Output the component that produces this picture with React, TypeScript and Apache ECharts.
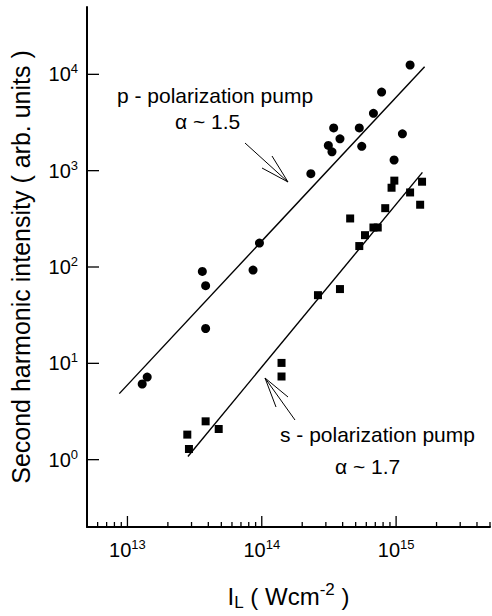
import React, { useEffect, useRef } from "react";
import * as echarts from "echarts";

// ---- data ----
const pIntensity = [1.288e13, 1.403e13, 3.61e13, 3.82e13, 3.82e13, 8.61e13, 9.61e13, 2.32e14, 3.13e14, 3.33e14, 3.43e14, 3.82e14, 5.32e14, 5.55e14, 6.78e14, 7.8e14, 9.66e14, 1.114e15, 1.271e15];
const pSignal = [6.1, 7.2, 90, 64, 23, 93, 177, 930, 1830, 1570, 2780, 2140, 2780, 1790, 3940, 6550, 1290, 2410, 12500];

const sIntensity = [2.79e13, 2.87e13, 3.82e13, 4.78e13, 1.403e14, 1.403e14, 2.62e14, 3.82e14, 4.55e14, 5.32e14, 5.87e14, 6.78e14, 7.3e14, 8.3e14, 9.25e14, 9.7e14, 1.271e15, 1.56e15, 1.51e15];
const sSignal = [1.82, 1.29, 2.5, 2.08, 10.1, 7.3, 51, 59, 319, 165, 214, 257, 257, 408, 665, 788, 594, 768, 443];

const pFitX = [8.7e12, 1.63e15];
const pFitY = [4.85, 12000];
const sFitX = [2.82e13, 1.57e15];
const sFitY = [1.08, 959];

const xMajorTicks = [1e13, 1e14, 1e15];
const xMinorTicks = [
  6e12, 7e12, 8e12, 9e12,
  2e13, 3e13, 4e13, 5e13, 6e13, 7e13, 8e13, 9e13,
  2e14, 3e14, 4e14, 5e14, 6e14, 7e14, 8e14, 9e14,
  2e15, 3e15, 4e15, 5e15,
];
const yMajorTicks = [1, 10, 100, 1000, 10000];

const X_MIN = 5e12;
const X_MAX = 5e15;
const Y_MIN = 0.2;
const Y_MAX = 5e4;

const pLabel = "p - polarization pump";
const pAlpha = "\u03b1 ~ 1.5";
const sLabel = "s - polarization pump";
const sAlpha = "\u03b1 ~ 1.7";

const FONT = '"Liberation Sans", Arial, Helvetica, sans-serif';

function zip(a: number[], b: number[]) {
  return a.map((v, i) => [v, b[i]]);
}

function powLabel(v: number) {
  const l = Math.log10(v);
  const e = Math.round(l);
  if (Math.abs(l - e) > 1e-6) return "";
  return `{b|10}{s|${e}}`;
}

const tickRich = {
  b: { fontSize: 20, lineHeight: 24, fontFamily: FONT, color: "#000" },
  s: { fontSize: 13, lineHeight: 14, verticalAlign: "top", fontFamily: FONT, color: "#000" },
};

export default function App() {
  const ref = useRef<HTMLDivElement>(null);
  useEffect(() => {
    if (!ref.current) return;
    const chart = echarts.init(ref.current, undefined, { renderer: "svg" });
    const tickStyle = { stroke: "#000", lineWidth: 1.3 };
    const option: any = {
      animation: false,
      backgroundColor: "#fff",
      grid: { left: 87, right: 2, top: 7, bottom: 89, containLabel: false, outerBoundsMode: "none" },
      xAxis: {
        type: "log",
        logBase: 10,
        min: X_MIN,
        max: X_MAX,
        name: "{n|I}{sub|L}{n| ( Wcm}{sup|-2}{n| )}",
        nameLocation: "middle",
        nameGap: 54,
        nameTextStyle: {
          rich: {
            n: { fontSize: 24, lineHeight: 30, fontFamily: FONT, color: "#000" },
            sub: { fontSize: 17, lineHeight: 12, verticalAlign: "bottom", fontFamily: FONT, color: "#000" },
            sup: { fontSize: 17, lineHeight: 8, verticalAlign: "top", fontFamily: FONT, color: "#000" },
          },
        },
        axisLine: { show: true, onZero: false, lineStyle: { color: "#000", width: 2 } },
        axisTick: { show: false },
        splitLine: { show: false },
        minorTick: { show: false },
        axisLabel: { margin: 11, formatter: powLabel, rich: tickRich, color: "#000" },
      },
      yAxis: {
        type: "log",
        logBase: 10,
        min: Y_MIN,
        max: Y_MAX,
        name: "Second harmonic intensity ( arb. units )",
        nameLocation: "middle",
        nameRotate: 90,
        nameGap: 54,
        nameTextStyle: { fontSize: 25, fontFamily: FONT, color: "#000" },
        axisLine: { show: true, onZero: false, lineStyle: { color: "#000", width: 2 } },
        axisTick: { show: false },
        splitLine: { show: false },
        axisLabel: { margin: 9, formatter: powLabel, rich: tickRich, color: "#000" },
      },
      series: [
        {
          type: "custom",
          name: "xMajor",
          silent: true,
          data: xMajorTicks.map((v) => [v, Y_MIN]),
          encode: { x: 0, y: 1 },
          renderItem: (_p: any, api: any) => {
            const c = api.coord([api.value(0), api.value(1)]);
            return { type: "line", shape: { x1: c[0], y1: c[1], x2: c[0], y2: c[1] - 11 }, style: tickStyle };
          },
        },
        {
          type: "custom",
          name: "xMinor",
          silent: true,
          data: xMinorTicks.map((v) => [v, Y_MIN]),
          encode: { x: 0, y: 1 },
          renderItem: (_p: any, api: any) => {
            const c = api.coord([api.value(0), api.value(1)]);
            return { type: "line", shape: { x1: c[0], y1: c[1], x2: c[0], y2: c[1] - 5 }, style: tickStyle };
          },
        },
        {
          type: "custom",
          name: "yMajor",
          silent: true,
          data: yMajorTicks.map((v) => [X_MIN, v]),
          encode: { x: 0, y: 1 },
          renderItem: (_p: any, api: any) => {
            const c = api.coord([api.value(0), api.value(1)]);
            return { type: "line", shape: { x1: c[0], y1: c[1], x2: c[0] + 12, y2: c[1] }, style: tickStyle };
          },
        },
        {
          type: "line",
          name: "p fit",
          data: zip(pFitX, pFitY),
          symbol: "none",
          lineStyle: { color: "#000", width: 1.4 },
          silent: true,
        },
        {
          type: "line",
          name: "s fit",
          data: zip(sFitX, sFitY),
          symbol: "none",
          lineStyle: { color: "#000", width: 1.4 },
          silent: true,
        },
        {
          type: "scatter",
          name: "p-polarization",
          data: zip(pIntensity, pSignal),
          symbol: "circle",
          symbolSize: 9,
          itemStyle: { color: "#000", opacity: 1 },
        },
        {
          type: "scatter",
          name: "s-polarization",
          data: zip(sIntensity, sSignal),
          symbol: "rect",
          symbolSize: 8,
          itemStyle: { color: "#000", opacity: 1 },
        },
      ],
      graphic: [
        { type: "text", x: 117, y: 95, style: { text: pLabel, fontSize: 21, fontFamily: FONT, fill: "#000", verticalAlign: "middle", align: "left" } },
        { type: "text", x: 175, y: 121, style: { text: pAlpha, fontSize: 21, fontFamily: FONT, fill: "#000", verticalAlign: "middle", align: "left" } },
        { type: "text", x: 280, y: 434, style: { text: sLabel, fontSize: 21, fontFamily: FONT, fill: "#000", verticalAlign: "middle", align: "left" } },
        { type: "text", x: 335, y: 466, style: { text: sAlpha, fontSize: 21, fontFamily: FONT, fill: "#000", verticalAlign: "middle", align: "left" } },
        { type: "polyline", shape: { points: [[245, 143], [288, 182]] }, style: { stroke: "#000", lineWidth: 1, fill: null } },
        { type: "polyline", shape: { points: [[272, 156], [288, 182], [262, 168]] }, style: { stroke: "#000", lineWidth: 1, fill: null } },
        { type: "polyline", shape: { points: [[295, 420], [265, 378]] }, style: { stroke: "#000", lineWidth: 1, fill: null } },
        { type: "polyline", shape: { points: [[276, 407], [265, 378], [288, 397]] }, style: { stroke: "#000", lineWidth: 1, fill: null } },
      ],
    };
    chart.setOption(option);
    return () => chart.dispose();
  }, []);
  return (
    <div
      ref={ref}
      style={{ position: "fixed", left: 0, top: 0, width: 492, height: 616, background: "#fff" }}
    />
  );
}
